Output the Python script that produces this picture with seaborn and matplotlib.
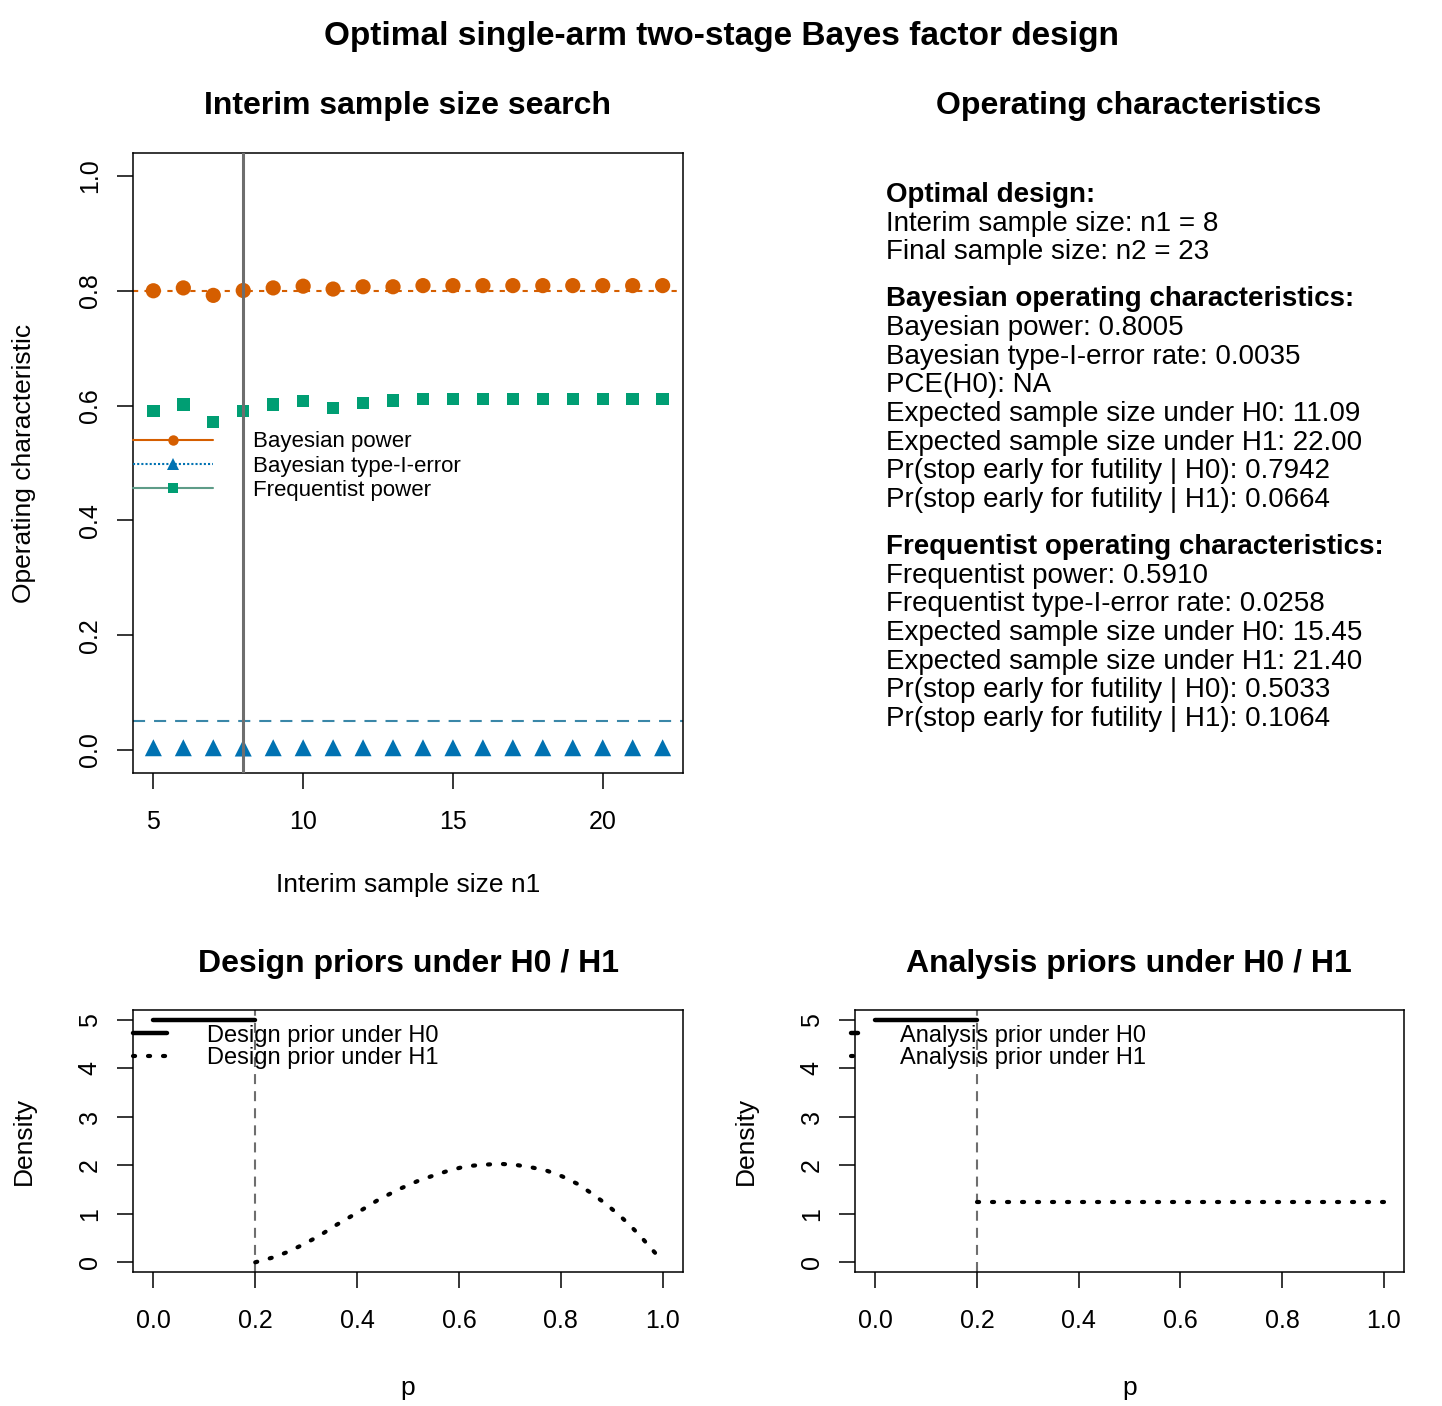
import numpy as np
import pandas as pd
import matplotlib
matplotlib.use("Agg")
import matplotlib.pyplot as plt
import seaborn as sns
from matplotlib.lines import Line2D

# ---------------- data ----------------
n1_values = list(range(5, 23))
bayes_power = [0.800, 0.805, 0.792, 0.8005, 0.805, 0.808, 0.803, 0.807, 0.807,
               0.809, 0.809, 0.809, 0.809, 0.809, 0.809, 0.809, 0.809, 0.809]
bayes_t1e = [0.004, 0.004, 0.004, 0.0035, 0.004, 0.004, 0.004, 0.004, 0.004,
             0.004, 0.004, 0.004, 0.004, 0.004, 0.004, 0.004, 0.004, 0.004]
freq_power = [0.591, 0.602, 0.571, 0.591, 0.602, 0.608, 0.596, 0.605, 0.609,
              0.611, 0.611, 0.611, 0.611, 0.611, 0.611, 0.611, 0.611, 0.611]
power_target = 0.8
alpha_target = 0.05
optimal_n1 = 8
p0 = 0.2

prior_h0_p = [0.0, 0.2]
prior_h0_density = [5.0, 5.0]
design_h1_p = [0.200, 0.235, 0.263, 0.291, 0.325, 0.356, 0.387, 0.411, 0.442,
               0.483, 0.518, 0.545, 0.580, 0.614, 0.648, 0.679, 0.710, 0.741,
               0.772, 0.803, 0.834, 0.862, 0.889, 0.917, 0.937, 0.958, 0.972, 0.989]
design_h1_density = [0.00, 0.10, 0.21, 0.35, 0.54, 0.75, 0.94, 1.09, 1.29,
                     1.51, 1.67, 1.77, 1.89, 1.98, 2.01, 2.03, 2.01, 1.96,
                     1.89, 1.77, 1.61, 1.41, 1.20, 0.95, 0.75, 0.52, 0.35, 0.15]
analysis_h1_p = [0.2, 1.0]
analysis_h1_density = [1.25, 1.25]

text_blocks = [
    ("Optimal design:", ["Interim sample size: n1 = 8", "Final sample size: n2 = 23"]),
    ("Bayesian operating characteristics:", [
        "Bayesian power: 0.8005",
        "Bayesian type-I-error rate: 0.0035",
        "PCE(H0): NA",
        "Expected sample size under H0: 11.09",
        "Expected sample size under H1: 22.00",
        "Pr(stop early for futility | H0): 0.7942",
        "Pr(stop early for futility | H1): 0.0664"]),
    ("Frequentist operating characteristics:", [
        "Frequentist power: 0.5910",
        "Frequentist type-I-error rate: 0.0258",
        "Expected sample size under H0: 15.45",
        "Expected sample size under H1: 21.40",
        "Pr(stop early for futility | H0): 0.5033",
        "Pr(stop early for futility | H1): 0.1064"]),
]

# ---------------- style ----------------
sns.set_theme(style="ticks")
plt.rcParams["font.family"] = ["Liberation Sans", "DejaVu Sans"]
plt.rcParams["text.color"] = "black"
plt.rcParams["axes.labelcolor"] = "black"
plt.rcParams["xtick.color"] = "black"
plt.rcParams["ytick.color"] = "black"

ORANGE = "#D55E00"
BLUE = "#0072B2"
GREEN = "#009E73"
ALPHA_LINE = "#3A87A8"
GREY = "#6E6E6E"
TICK_FS = 18
LAB_FS = 19
TITLE_FS = 23

W, H = 1442, 1406
fig = plt.figure(figsize=(W / 100, H / 100), dpi=100)


def box(l, t, r, b):
    return [l / W, 1 - b / H, (r - l) / W, (b - t) / H]


def style_axes(ax, xticks, xlabels, yticks, ylabels):
    for s in ax.spines.values():
        s.set_color("black")
        s.set_linewidth(1.1)
        s.set_visible(True)
    ax.set_xticks(xticks, xlabels)
    ax.set_yticks(yticks, ylabels)
    ax.tick_params(direction="out", length=11.5, width=1.1, colors="black", labelsize=TICK_FS)
    ax.tick_params(axis="x", pad=15)
    ax.tick_params(axis="y", pad=11, labelrotation=90)
    for lab in ax.get_yticklabels():
        lab.set_va("center")
    ax.grid(False)


# ---------------- top-left: interim sample size search ----------------
ax1 = fig.add_axes(box(133, 153, 683, 773))
df = pd.DataFrame({"n1": n1_values, "bp": bayes_power, "t1e": bayes_t1e, "fp": freq_power})

ax1.axhline(power_target, color=ORANGE, ls=(0, (2.5, 3)), lw=1.5, zorder=1)
ax1.axhline(alpha_target, color=ALPHA_LINE, ls=(0, (5.8, 4.3)), lw=1.5, zorder=1)
sns.scatterplot(data=df, x="n1", y="bp", ax=ax1, marker="o", s=120, color=ORANGE,
                edgecolor="none", linewidth=0, zorder=3)
sns.scatterplot(data=df, x="n1", y="fp", ax=ax1, marker="s", s=80, color=GREEN,
                edgecolor="none", linewidth=0, zorder=3)
sns.scatterplot(data=df, x="n1", y="t1e", ax=ax1, marker="^", s=150, color=BLUE,
                edgecolor="none", linewidth=0, zorder=3)
ax1.axvline(optimal_n1, color=GREY, lw=2.2, zorder=4)

ax1.set_xlim(4.32, 22.68)
ax1.set_ylim(-0.04, 1.04)
style_axes(ax1, [5, 10, 15, 20], ["5", "10", "15", "20"],
           [0, 0.2, 0.4, 0.6, 0.8, 1.0], ["0.0", "0.2", "0.4", "0.6", "0.8", "1.0"])
ax1.set_xlabel("Interim sample size n1", fontsize=LAB_FS)
ax1.set_ylabel("Operating characteristic", fontsize=LAB_FS)
ax1.xaxis.set_label_coords(0.5, -0.161)
ax1.yaxis.set_label_coords(-0.176, 0.5)

leg_handles = [
    Line2D([], [], color=ORANGE, lw=1.5, marker="o", markersize=7.5, markeredgewidth=0),
    Line2D([], [], color=BLUE, lw=1.5, ls=(0, (1, 1)), marker="^", markersize=8.5, markeredgewidth=0),
    Line2D([], [], color="#5E9C88", lw=1.5, marker="s", markersize=6.5, markeredgewidth=0,
           markerfacecolor=GREEN),
]
ax1.legend(leg_handles, ["Bayesian power", "Bayesian type-I-error", "Frequentist power"],
           loc="upper left", bbox_to_anchor=(0.0, 0.551), frameon=False, fontsize=16,
           handlelength=3.6, handletextpad=1.8, borderaxespad=0, borderpad=0, labelspacing=0.15)

# ---------------- top-right: operating characteristics text ----------------
ax2 = fig.add_axes(box(855, 153, 1404, 773))
ax2.axis("off")
y = 195
step = 28.65
for bi, (head, lines) in enumerate(text_blocks):
    fig.text(886 / W, 1 - y / H, head, fontsize=20, fontweight="bold", va="center", ha="left")
    y += step
    for ln in lines:
        fig.text(886 / W, 1 - y / H, ln, fontsize=20, va="center", ha="left")
        y += step
    y += 18.5

# ---------------- bottom-left: design priors ----------------
DOT = (0, (0.5, 3.1))
ax3 = fig.add_axes(box(133, 1010, 683, 1272))
ax3.axvline(p0, color=GREY, lw=1.5, ls=(0, (4.8, 3.4)), zorder=1)
sns.lineplot(x=prior_h0_p, y=prior_h0_density, ax=ax3, color="black", lw=3.2, zorder=2)
sns.lineplot(x=design_h1_p, y=design_h1_density, ax=ax3, color="black", lw=3.0,
             ls=DOT, dash_capstyle="round", zorder=2, sort=False)
ax3.set_xlim(-0.04, 1.04)
ax3.set_ylim(-0.2, 5.2)
style_axes(ax3, [0, 0.2, 0.4, 0.6, 0.8, 1.0], ["0.0", "0.2", "0.4", "0.6", "0.8", "1.0"],
           [0, 1, 2, 3, 4, 5], ["0", "1", "2", "3", "4", "5"])
ax3.set_xlabel("p", fontsize=LAB_FS)
ax3.set_ylabel("Density", fontsize=LAB_FS)
ax3.xaxis.set_label_coords(0.5, -0.397)
ax3.yaxis.set_label_coords(-0.176, 0.5)
h_solid = Line2D([], [], color="black", lw=3.2)
h_dot = Line2D([], [], color="black", lw=3.0, ls=DOT, dash_capstyle="round")
ax3.legend([h_solid, h_dot], ["Design prior under H0", "Design prior under H1"],
           loc="upper left", bbox_to_anchor=(0.0, 0.944), frameon=False, fontsize=17,
           handlelength=1.45, handletextpad=1.7, borderaxespad=0, borderpad=0, labelspacing=0.03)

# ---------------- bottom-right: analysis priors ----------------
ax4 = fig.add_axes(box(855, 1010, 1404, 1272))
ax4.axvline(p0, color=GREY, lw=1.5, ls=(0, (4.8, 3.4)), zorder=1)
sns.lineplot(x=prior_h0_p, y=prior_h0_density, ax=ax4, color="black", lw=3.2, zorder=2)
sns.lineplot(x=analysis_h1_p, y=analysis_h1_density, ax=ax4, color="black", lw=3.0,
             ls=DOT, dash_capstyle="round", zorder=2)
ax4.set_xlim(-0.04, 1.04)
ax4.set_ylim(-0.2, 5.2)
style_axes(ax4, [0, 0.2, 0.4, 0.6, 0.8, 1.0], ["0.0", "0.2", "0.4", "0.6", "0.8", "1.0"],
           [0, 1, 2, 3, 4, 5], ["0", "1", "2", "3", "4", "5"])
ax4.set_xlabel("p", fontsize=LAB_FS)
ax4.set_ylabel("Density", fontsize=LAB_FS)
ax4.xaxis.set_label_coords(0.5, -0.397)
ax4.yaxis.set_label_coords(-0.177, 0.5)
ax4.legend([h_solid, h_dot], ["Analysis prior under H0", "Analysis prior under H1"],
           loc="upper left", bbox_to_anchor=(-0.008, 0.944), frameon=False, fontsize=17,
           handlelength=0.3, handletextpad=1.8, borderaxespad=0, borderpad=0, labelspacing=0.03)

# ---------------- titles ----------------
fig.text(721 / W, 1 - 37 / H, "Optimal single-arm two-stage Bayes factor design",
         fontsize=24, fontweight="bold", ha="center", va="center")
fig.text(408 / W, 1 - 106 / H, "Interim sample size search", fontsize=TITLE_FS, fontweight="bold",
         ha="center", va="center")
fig.text(1129 / W, 1 - 106 / H, "Operating characteristics", fontsize=TITLE_FS, fontweight="bold",
         ha="center", va="center")
fig.text(408 / W, 1 - 964 / H, "Design priors under H0 / H1", fontsize=TITLE_FS, fontweight="bold",
         ha="center", va="center")
fig.text(1129 / W, 1 - 964 / H, "Analysis priors under H0 / H1", fontsize=TITLE_FS, fontweight="bold",
         ha="center", va="center")

fig.savefig("out.png", dpi=100, facecolor="white")
